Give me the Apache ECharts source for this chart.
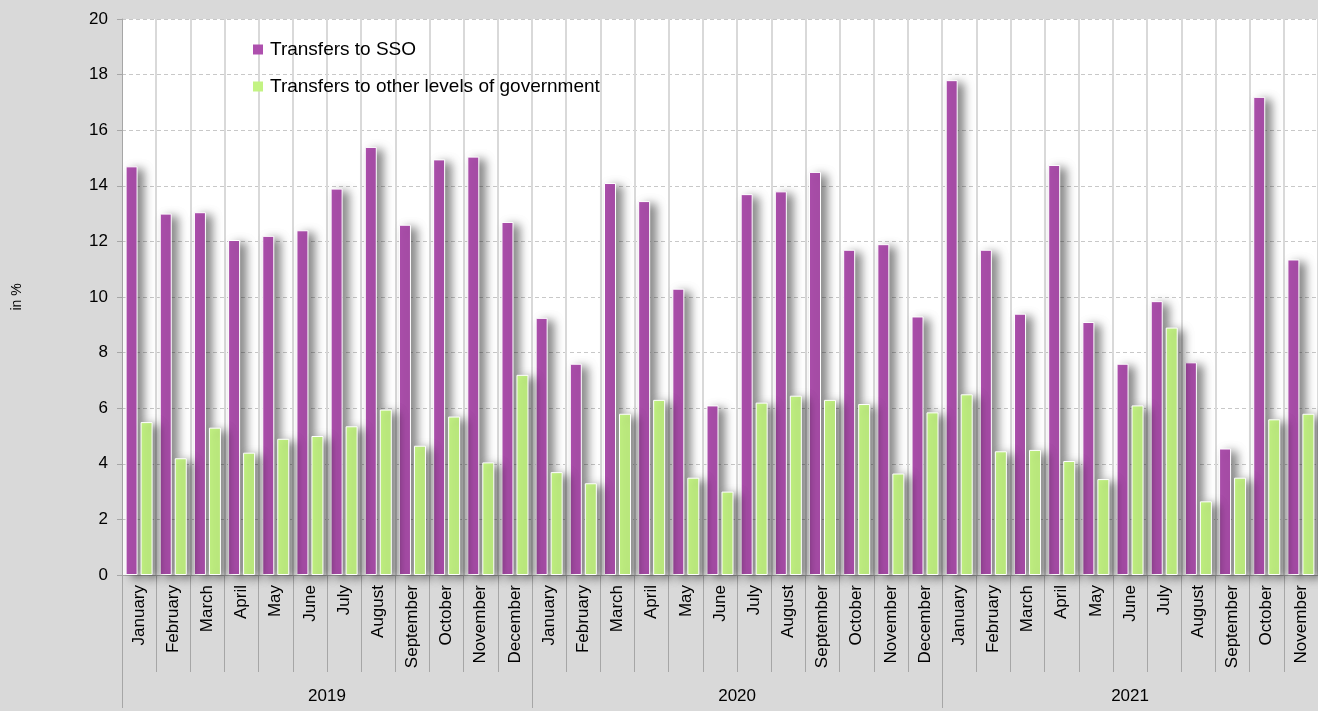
<!DOCTYPE html>
<html>
<head>
<meta charset="utf-8">
<script src="https://cdn.jsdelivr.net/npm/echarts@6/dist/echarts.min.js"></script>
<style>html,body{margin:0;padding:0;background:#d9d9d9;}#c{width:1318px;height:711px;}</style>
</head>
<body>
<div id="c"></div>
<script>
const years = ['2019', '2020', '2021'];
const monthNames = ['January','February','March','April','May','June','July','August','September','October','November','December'];
const monthsPerYear = [12, 12, 11];
const yTicks = [0, 2, 4, 6, 8, 10, 12, 14, 16, 18, 20];

const sso2019 = [14.7, 13.0, 13.05, 12.05, 12.2, 12.4, 13.9, 15.4, 12.6, 14.95, 15.05, 12.7];
const other2019 = [5.5, 4.2, 5.3, 4.4, 4.9, 5.0, 5.35, 5.95, 4.65, 5.7, 4.05, 7.2];
const sso2020 = [9.25, 7.6, 14.1, 13.45, 10.3, 6.1, 13.7, 13.8, 14.5, 11.7, 11.9, 9.3];
const other2020 = [3.7, 3.3, 5.8, 6.3, 3.5, 3.0, 6.2, 6.45, 6.3, 6.15, 3.65, 5.85];
const sso2021 = [17.8, 11.7, 9.4, 14.75, 9.1, 7.6, 9.85, 7.65, 4.55, 17.2, 11.35];
const other2021 = [6.5, 4.45, 4.5, 4.1, 3.45, 6.1, 8.9, 2.65, 3.5, 5.6, 5.8];

const seriesNames = ['Transfers to SSO', 'Transfers to other levels of government'];
const colors = ['#ae50ae', '#c3f383'];

// build categories and year group boundaries
const categories = [];
const yearBounds = [0];
const yearCenters = [];
let idx = 0;
years.forEach((y, i) => {
  const n = monthsPerYear[i];
  for (let m = 0; m < n; m++) categories.push(monthNames[m] + ' ' + y);
  yearCenters.push(idx + n / 2);
  idx += n;
  yearBounds.push(idx);
});
const ssoData = sso2019.concat(sso2020, sso2021);
const otherData = other2019.concat(other2020, other2021);

const FONT = '"Liberation Sans", Arial, sans-serif';
const barStyle = (c) => ({
  color: c,
  borderColor: '#ffffff',
  borderWidth: 1,
  shadowColor: 'rgba(0,0,0,0.5)',
  shadowBlur: 10,
  shadowOffsetX: 6,
  shadowOffsetY: 3
});

const chart = echarts.init(document.getElementById('c'), null, {renderer: 'canvas'});
chart.setOption({
  backgroundColor: '#d9d9d9',
  animation: false,
  textStyle: {fontFamily: FONT},
  grid: {
    left: 122, right: 0, top: 19, bottom: 136,
    show: true, backgroundColor: '#ffffff', borderWidth: 0,
    containLabel: false
  },
  legend: {
    orient: 'vertical',
    left: 248, top: 35,
    itemWidth: 10, itemHeight: 10, itemGap: 18,
    icon: 'rect',
    itemStyle: {borderWidth: 0, shadowBlur: 0, shadowOffsetX: 0, shadowOffsetY: 0, shadowColor: 'transparent'},
    textStyle: {fontSize: 19, color: '#000', fontFamily: FONT, padding: [0, 0, 0, 2]},
    data: seriesNames
  },
  xAxis: [
    {
      type: 'category',
      data: categories,
      position: 'bottom',
      boundaryGap: true,
      axisLine: {show: true, lineStyle: {color: '#a6a6a6', width: 1}},
      axisTick: {show: true, interval: 0, length: 97, lineStyle: {color: '#a6a6a6', width: 1}},
      axisLabel: {
        interval: 0, rotate: 90, margin: 10,
        fontSize: 17, color: '#000', fontFamily: FONT,
        formatter: (v) => v.split(' ')[0]
      },
      splitLine: {show: true, interval: 0, lineStyle: {color: '#d9d9d9', width: 2}}
    },
    {
      type: 'value',
      min: 0, max: categories.length,
      position: 'bottom',
      axisLine: {show: false},
      axisTick: {show: true, length: 133, customValues: yearBounds.slice(0, years.length), lineStyle: {color: '#a6a6a6', width: 1}},
      axisLabel: {
        show: true, margin: 113, fontSize: 17, color: '#000', fontFamily: FONT,
        customValues: yearCenters,
        formatter: (v) => {
          const i = yearCenters.findIndex(c => Math.abs(c - v) < 1e-6);
          return i >= 0 ? years[i] : '';
        }
      },
      splitLine: {show: false}
    }
  ],
  yAxis: {
    type: 'value',
    min: yTicks[0], max: yTicks[yTicks.length - 1], interval: 2,
    name: 'in %',
    nameLocation: 'middle',
    nameGap: 98,
    nameTextStyle: {fontSize: 14, color: '#000', fontFamily: FONT},
    axisLine: {show: true, lineStyle: {color: '#a6a6a6', width: 1}},
    axisTick: {show: true, inside: false, length: 5, lineStyle: {color: '#a6a6a6'}},
    axisLabel: {fontSize: 17, color: '#000', margin: 14, fontFamily: FONT},
    splitLine: {show: true, lineStyle: {color: '#c8c8c8', type: [4, 3], width: 1}}
  },
  series: [
    {
      name: seriesNames[0], type: 'bar', xAxisIndex: 0,
      data: ssoData, barWidth: 12, barGap: '25%',
      itemStyle: barStyle(colors[0])
    },
    {
      name: seriesNames[1], type: 'bar', xAxisIndex: 0,
      data: otherData, barWidth: 12, barGap: '25%',
      itemStyle: barStyle(colors[1])
    }
  ]
});
</script>
</body>
</html>
